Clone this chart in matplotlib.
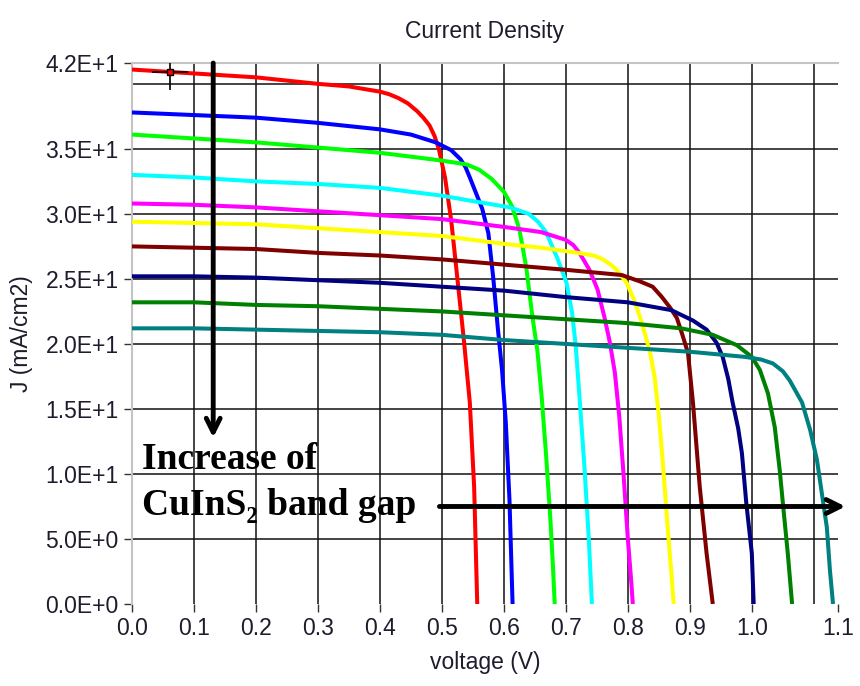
import matplotlib
matplotlib.use("Agg")
import matplotlib.pyplot as plt
import numpy as np

# J-V curves for increasing absorber band gap (voltage in V, J in mA/cm2)
red_v = [0, 0.1, 0.2, 0.3, 0.35, 0.4, 0.415, 0.43, 0.445, 0.46, 0.47, 0.48, 0.488, 0.495, 0.505, 0.515, 0.525, 0.535, 0.545, 0.552, 0.557]
red_j = [41.1, 40.8, 40.5, 40.0, 39.8, 39.4, 39.2, 38.9, 38.5, 37.9, 37.4, 36.8, 36.0, 35.0, 32.8, 29.5, 25.0, 20.5, 15.5, 9.0, 0.0]

blue_v = [0, 0.1, 0.2, 0.3, 0.4, 0.45, 0.49, 0.515, 0.53, 0.538, 0.545, 0.555, 0.565, 0.575, 0.583, 0.59, 0.597, 0.603, 0.609, 0.614]
blue_j = [37.8, 37.6, 37.4, 37.0, 36.5, 36.1, 35.5, 34.9, 34.2, 33.6, 32.8, 31.6, 30.4, 28.5, 25.0, 21.3, 18.0, 14.0, 8.0, 0.0]

lime_v = [0, 0.1, 0.2, 0.3, 0.4, 0.5, 0.54, 0.56, 0.58, 0.6, 0.613, 0.625, 0.636, 0.646, 0.654, 0.661, 0.668, 0.675, 0.679, 0.682]
lime_j = [36.1, 35.8, 35.5, 35.1, 34.7, 34.1, 33.8, 33.4, 32.7, 31.7, 30.6, 28.8, 25.9, 22.1, 19.5, 15.9, 11.5, 6.5, 3.0, 0.0]

cyan_v = [0, 0.1, 0.2, 0.3, 0.4, 0.5, 0.56, 0.61, 0.64, 0.655, 0.668, 0.687, 0.701, 0.71, 0.716, 0.722, 0.73, 0.737, 0.742]
cyan_j = [33.0, 32.8, 32.5, 32.3, 32.0, 31.4, 30.9, 30.5, 30.0, 29.4, 28.6, 26.5, 24.7, 22.4, 19.8, 15.9, 10.5, 5.0, 0.0]

magenta_v = [0, 0.1, 0.2, 0.3, 0.4, 0.5, 0.6, 0.66, 0.7, 0.712, 0.722, 0.738, 0.751, 0.762, 0.771, 0.779, 0.786, 0.793, 0.8, 0.805, 0.808]
magenta_j = [30.8, 30.7, 30.5, 30.2, 29.9, 29.6, 29.0, 28.6, 28.0, 27.6, 27.0, 25.7, 24.2, 22.1, 20.1, 17.8, 14.5, 10.0, 5.0, 2.0, 0.0]

yellow_v = [0, 0.1, 0.2, 0.3, 0.4, 0.5, 0.6, 0.66, 0.72, 0.745, 0.76, 0.772, 0.782, 0.798, 0.81, 0.82, 0.828, 0.836, 0.843, 0.85, 0.857, 0.864, 0.87, 0.874]
yellow_j = [29.4, 29.3, 29.2, 28.9, 28.6, 28.3, 27.7, 27.4, 27.0, 26.8, 26.5, 26.1, 25.7, 24.7, 23.4, 22.0, 20.7, 19.3, 17.5, 14.5, 10.5, 6.0, 2.5, 0.0]

maroon_v = [0, 0.1, 0.2, 0.3, 0.4, 0.5, 0.6, 0.7, 0.79, 0.82, 0.84, 0.855, 0.868, 0.879, 0.888, 0.897, 0.905, 0.916, 0.927, 0.937]
maroon_j = [27.5, 27.4, 27.3, 27.0, 26.8, 26.5, 26.1, 25.7, 25.3, 24.8, 24.4, 23.6, 22.8, 22.0, 20.7, 19.3, 15.5, 9.0, 3.9, 0.0]

navy_v = [0, 0.1, 0.2, 0.3, 0.4, 0.5, 0.6, 0.7, 0.8, 0.87, 0.905, 0.927, 0.943, 0.953, 0.962, 0.969, 0.978, 0.984, 0.991, 1.0, 1.003]
navy_j = [25.2, 25.2, 25.1, 24.9, 24.7, 24.4, 24.1, 23.6, 23.2, 22.6, 21.8, 21.1, 20.1, 19.0, 17.3, 15.5, 13.5, 11.6, 7.8, 3.9, 0.0]

green_v = [0, 0.1, 0.2, 0.3, 0.4, 0.5, 0.6, 0.7, 0.8, 0.886, 0.937, 0.976, 1.0, 1.013, 1.026, 1.037, 1.045, 1.05, 1.058, 1.065]
green_j = [23.2, 23.2, 23.0, 22.9, 22.7, 22.5, 22.2, 21.9, 21.6, 21.2, 20.7, 19.9, 19.0, 18.0, 16.2, 13.6, 10.3, 7.8, 3.9, 0.0]

teal_v = [0, 0.1, 0.2, 0.3, 0.4, 0.5, 0.6, 0.7, 0.8, 0.9, 0.99, 1.015, 1.034, 1.05, 1.061, 1.081, 1.094, 1.105, 1.113, 1.121, 1.126, 1.131]
teal_j = [21.2, 21.2, 21.1, 21.0, 20.9, 20.7, 20.3, 20.0, 19.7, 19.4, 19.0, 18.8, 18.5, 17.9, 17.2, 15.5, 13.4, 11.1, 8.5, 5.9, 2.6, 0.0]

curves = [
    (red_v, red_j, '#ff0000'),
    (blue_v, blue_j, '#0000ff'),
    (lime_v, lime_j, '#00ff00'),
    (cyan_v, cyan_j, '#00ffff'),
    (magenta_v, magenta_j, '#ff00ff'),
    (yellow_v, yellow_j, '#ffff00'),
    (maroon_v, maroon_j, '#800000'),
    (navy_v, navy_j, '#000080'),
    (green_v, green_j, '#008000'),
    (teal_v, teal_j, '#008080'),
]

# Axis ranges and tick labels (end ticks show the rounded axis limit)
X_MAX = 1.139
Y_MAX = 41.6
x_ticks = [0.0, 0.1, 0.2, 0.3, 0.4, 0.5, 0.6, 0.7, 0.8, 0.9, 1.0, X_MAX]
x_labels = ['0.0', '0.1', '0.2', '0.3', '0.4', '0.5', '0.6', '0.7', '0.8', '0.9', '1.0', '1.1']
y_ticks = [0, 5, 10, 15, 20, 25, 30, 35, Y_MAX]
y_labels = ['0.0E+0', '5.0E+0', '1.0E+1', '1.5E+1', '2.0E+1', '2.5E+1', '3.0E+1', '3.5E+1', '4.2E+1']
x_grid = [0.1, 0.2, 0.3, 0.4, 0.5, 0.6, 0.7, 0.8, 0.9, 1.0, 1.1]
y_grid = [5, 10, 15, 20, 25, 30, 35, 40]

# Cursor and annotation arrows
cursor_v = [0.061]
cursor_j = [40.9]
down_arrow = [(0.131, Y_MAX), (0.131, 12.8)]
right_arrow = [(0.496, 7.5), (1.151, 7.5)]

TEXT_COLOR = '#1c1c2c'
FONT_SIZE = 16.5

plt.rcParams['font.family'] = ['Liberation Sans', 'DejaVu Sans']
fig = plt.figure(figsize=(8.6, 6.86), dpi=100)
ax = fig.add_axes([0.1535, 0.1195, 0.8209, 0.7886])

for v, j, c in curves:
    ax.plot(v, j, color=c, lw=2.9, zorder=3, solid_joinstyle='round', solid_capstyle='butt')

ax.set_xlim(0, X_MAX)
ax.set_ylim(0, Y_MAX)
ax.set_xticks(x_ticks)
ax.set_xticklabels(x_labels)
ax.set_yticks(y_ticks)
ax.set_yticklabels(y_labels)

# grid lines sit on the round values, not on the end ticks
for gx in x_grid:
    ax.axvline(gx, color='#111111', lw=1.1, zorder=1)
for gy in y_grid:
    ax.axhline(gy, color='#111111', lw=1.1, zorder=1)

ax.tick_params(direction='out', length=6, width=1.0, color='#333333',
               labelsize=FONT_SIZE, labelcolor=TEXT_COLOR)

for side in ['right', 'bottom']:
    ax.spines[side].set_visible(False)
for side in ['left', 'top']:
    ax.spines[side].set_color('#c4c4c4')
    ax.spines[side].set_linewidth(1.5)

ax.set_title('Current Density', fontsize=FONT_SIZE, color=TEXT_COLOR, pad=18)
ax.set_xlabel('voltage (V)', fontsize=FONT_SIZE, color=TEXT_COLOR, labelpad=8)
ax.set_ylabel('J (mA/cm2)', fontsize=FONT_SIZE, color=TEXT_COLOR)
ax.yaxis.set_label_coords(-0.14, 0.5)

# cursor crosshair
ax.plot(cursor_v, cursor_j, marker='+', ms=26, mew=1.2, color='black', ls='none', zorder=5)
ax.plot(cursor_v, cursor_j, marker='s', ms=5, mfc='#ff0000', mec='black', mew=1.0, ls='none', zorder=6)

# direction arrows
arrow_style = dict(arrowstyle='->, head_length=1.0, head_width=0.5', lw=3.5, color='black',
                   shrinkA=0, shrinkB=0)
ax.annotate('', xy=down_arrow[1], xytext=down_arrow[0], arrowprops=arrow_style,
            annotation_clip=False, zorder=7)
ax.annotate('', xy=right_arrow[1], xytext=right_arrow[0], arrowprops=arrow_style,
            annotation_clip=False, zorder=7)

serif = ['Liberation Serif', 'DejaVu Serif']
ax.text(0.016, 11.1, 'Increase of', family=serif, fontweight='bold', fontsize=27,
        va='center', ha='left', zorder=8)
ax.text(0.016, 7.6, 'CuInS\u2082 band gap', family=serif, fontweight='bold', fontsize=27,
        va='center', ha='left', zorder=8)

fig.savefig('out.png', dpi=100)
